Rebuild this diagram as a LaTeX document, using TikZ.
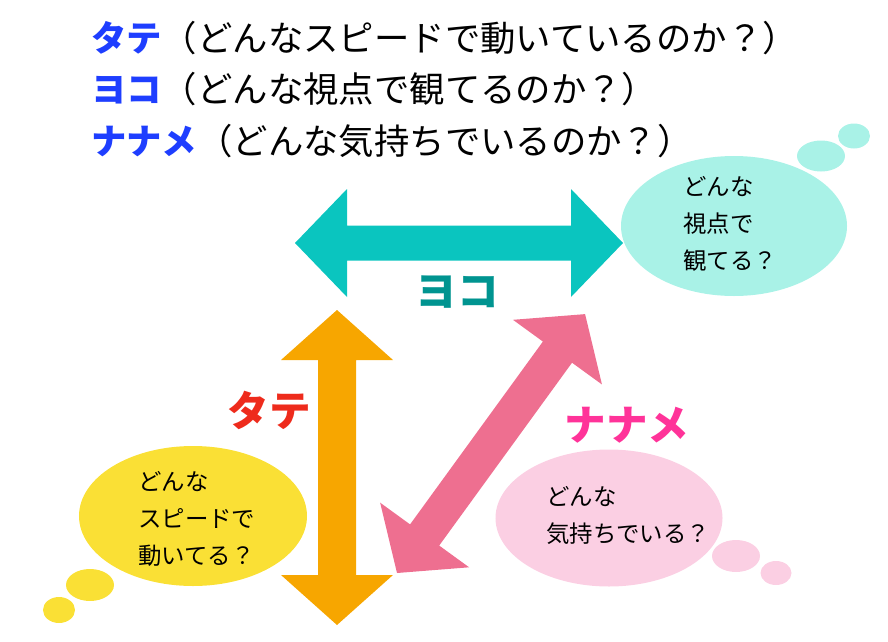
\documentclass[tikz,border=0pt]{standalone}
\usepackage{fontspec}
\setmainfont{Noto Sans CJK JP}
\usetikzlibrary{shapes.geometric,positioning}
\definecolor{keyblue}{HTML}{1E3EFF}
\definecolor{yokoarr}{HTML}{0AC5BF}
\definecolor{yokotxt}{HTML}{009490}
\definecolor{yokobub}{HTML}{A9F2E7}
\definecolor{tatearr}{HTML}{F7A600}
\definecolor{tatetxt}{HTML}{EE2B1C}
\definecolor{tatebub}{HTML}{FAE035}
\definecolor{nanaarr}{HTML}{EE6F90}
\definecolor{nanatxt}{HTML}{FF3399}
\definecolor{nanabub}{HTML}{FBCFE3}
% double arrow along local x: colour, length, head length, head half width, shaft half width
\newcommand{\dblarrow}[5]{\fill[#1] (0,0) -- (#3,#4) -- (#3,#5) -- ({#2-#3},#5) -- ({#2-#3},#4) -- (#2,0)
  -- ({#2-#3},-#4) -- ({#2-#3},-#5) -- (#3,-#5) -- (#3,-#4) -- cycle;}

\begin{document}
\begin{tikzpicture}[x=0.03cm,y=-0.03cm,
  ttl/.style={anchor=base west,inner sep=0,font=\fontsize{30.2}{36}\selectfont},
  lbl/.style={inner sep=0,font=\fontsize{35.5}{42}\selectfont\bfseries},
  bub/.style={ellipse,inner sep=0,draw=none},
  say/.style={anchor=west,inner sep=0,align=left,font=\fontsize{20}{31.6}\selectfont}]
\useasboundingbox (0,0) rectangle (888,642);

% title lines
\node[ttl] (ltate) at (91,51) {\textcolor{keyblue}{\bfseries タテ}（どんなスピードで動いているのか？）};
\node[ttl] (lyoko) at (91,102) {\textcolor{keyblue}{\bfseries ヨコ}（どんな視点で観てるのか？）};
\node[ttl] (lnana) at (91,154) {\textcolor{keyblue}{\bfseries ナナメ}（どんな気持ちでいるのか？）};

% thought bubbles
\node[bub,fill=yokobub,minimum width=6.78cm,minimum height=4.2cm] (byoko) at (734,226) {};
\node[bub,fill=yokobub,minimum width=1.44cm,minimum height=0.93cm] (byoko1) at (821,156) {};
\node[bub,fill=yokobub,minimum width=0.96cm,minimum height=0.75cm] (byoko2) at (854,136) {};
\node[bub,fill=tatebub,minimum width=6.84cm,minimum height=4.2cm] (btate) at (193,516) {};
\node[bub,fill=tatebub,minimum width=1.44cm,minimum height=0.96cm] (btate1) at (90,585) {};
\node[bub,fill=tatebub,minimum width=0.96cm,minimum height=0.78cm] (btate2) at (59,610) {};
\node[bub,fill=nanabub,minimum width=6.81cm,minimum height=4.11cm] (bnana) at (609,518) {};
\node[bub,fill=nanabub,minimum width=1.44cm,minimum height=0.96cm] (bnana1) at (736,556) {};
\node[bub,fill=nanabub,minimum width=0.93cm,minimum height=0.72cm] (bnana2) at (776,573) {};

\node[say] (qyoko) at (683,224) {どんな\\視点で\\観てる？};
\node[say] (qtate) at (138,519) {どんな\\スピードで\\動いてる？};
\node[say] (qnana) at (546,515) {どんな\\気持ちでいる？};

% big arrows
\begin{scope}[shift={(295,243)}]
  \dblarrow{yokoarr}{328}{52}{54}{17.5}
\end{scope}
\begin{scope}[shift={(337,625)},rotate=90]
  \dblarrow{tatearr}{315}{50}{56}{19}
\end{scope}
\begin{scope}[shift={(397,573)},rotate=54]
  \dblarrow{nanaarr}{320}{47}{55}{18}
\end{scope}

% labels
\node[lbl,text=yokotxt] (yoko) at (457,292) {ヨコ};
\node[lbl,text=tatetxt] (tate) at (269,410) {タテ};
\node[lbl,text=nanatxt] (nana) at (627,425) {ナナメ};
\end{tikzpicture}
\end{document}
